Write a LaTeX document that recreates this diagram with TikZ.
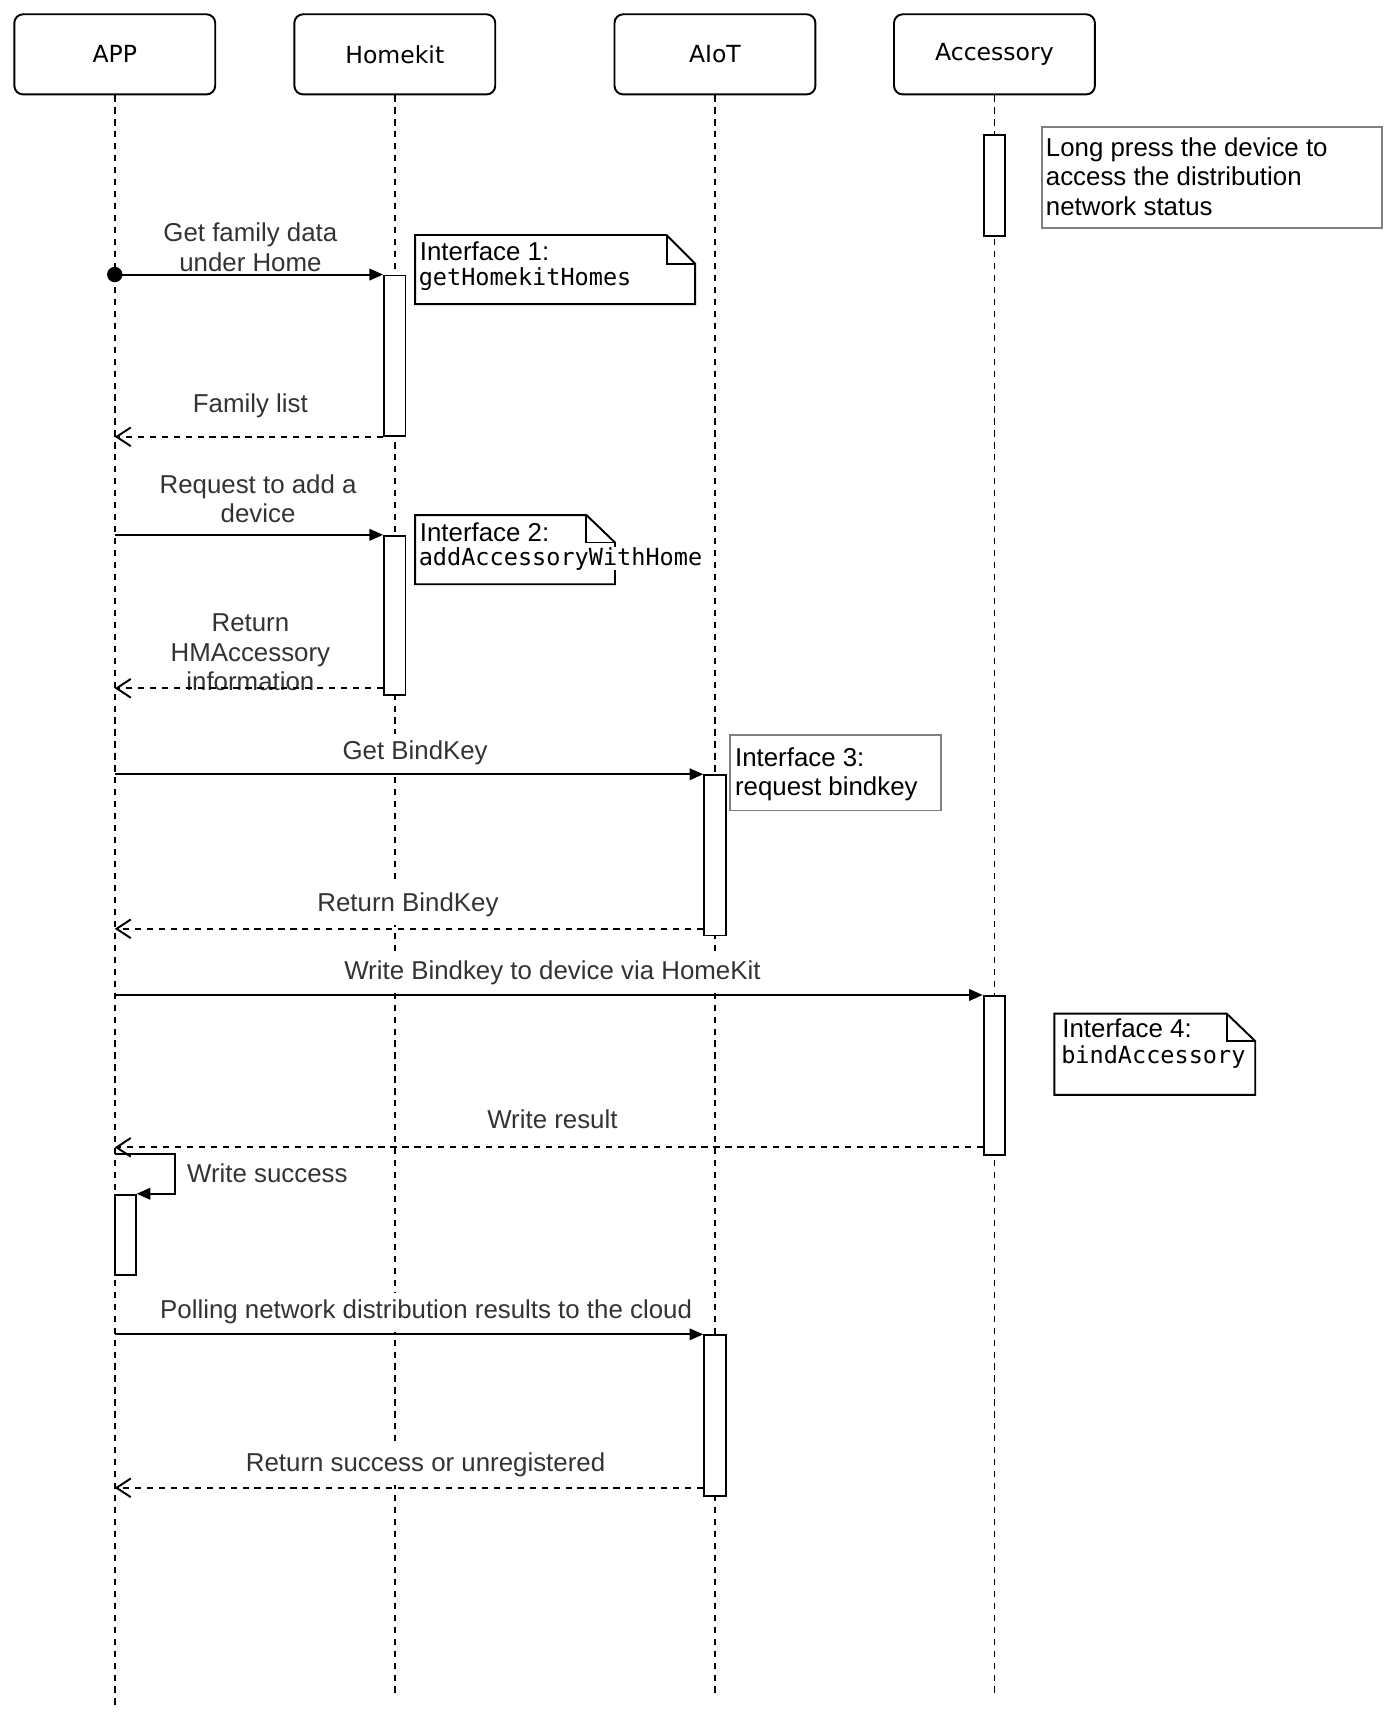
\documentclass[tikz,border=0pt]{standalone}
\usepackage{fontspec}
\setmainfont{Liberation Sans}
\setmonofont{DejaVu Sans Mono}
\newfontfamily\actorfont{DejaVu Sans}
\usetikzlibrary{arrows.meta}
\definecolor{notegray}{RGB}{128,128,128}
\definecolor{labelgray}{RGB}{51,51,51}

\begin{document}
\begin{tikzpicture}[x=0.02cm, y=-0.02cm,
  actor/.style={draw, rounded corners=0.16cm, line width=1pt, minimum width=3.66cm, minimum height=1.46cm, font=\actorfont\fontsize{12.2pt}{14pt}\selectfont},
  lifeline/.style={line width=0.9pt, dash pattern=on 3.2pt off 3pt},
  bar/.style={draw, fill=white, line width=1pt, minimum width=0.39cm, inner sep=0pt, anchor=north},
  msg/.style={line width=1pt, -{Triangle[length=0.25cm, width=0.21cm]}},
  ret/.style={line width=1pt, dash pattern=on 3.2pt off 3pt, -{Straight Barb[length=0.26cm, width=0.34cm]}},
  lbl/.style={fill=white, text=labelgray, inner xsep=1pt, inner ysep=4pt, anchor=base, align=center, font=\fontsize{13.4pt}{15.4pt}\selectfont},
  notetxt/.style={inner sep=0pt, anchor=base west, align=left, font=\fontsize{13.4pt}{15.1pt}\selectfont},
  code/.style={inner sep=0pt, anchor=base west, font=\ttfamily\fontsize{12.2pt}{14pt}\selectfont},
  note/.style={line width=1pt},
  plainnote/.style={draw=notegray, line width=1pt}]
\useasboundingbox (0,0) rectangle (1260,1568);

% actors
\node[actor] (app) at (104.5,49.5) {APP};
\node[actor] (hk) at (359.5,49.5) {Homekit};
\node[actor] (aiot) at (651,49.5) {AIoT};
\node[actor] (acc) at (905.5,49.5) {Accessory};

% lifelines
\coordinate (append) at (104.5,1556);
\coordinate (hkend) at (359.5,1544);
\coordinate (aiotend) at (651,1544);
\coordinate (accend) at (905.5,1544);
\draw[lifeline] (app.south) -- (append);
\draw[lifeline] (hk.south) -- (hkend);
\draw[lifeline] (aiot.south) -- (aiotend);
\draw[lifeline] (acc.south) -- (accend);

% activations
\node[bar, minimum height=1.84cm] (ac1) at (905.5,122) {};
\node[bar, minimum height=2.92cm] (hk1) at (359.5,250) {};
\node[bar, minimum height=2.9cm] (hk2) at (359.5,487) {};
\node[bar, minimum height=2.92cm] (ai1) at (651,705) {};
\node[bar, minimum height=2.9cm] (ac2) at (905.5,906) {};
\node[bar, minimum height=1.46cm, minimum width=0.38cm] (appbar) at (114,1087) {};
\node[bar, minimum height=2.92cm] (ai2) at (651,1215) {};

% return start points
\coordinate (r2s) at ([yshift=0.14cm]hk2.south west);
\coordinate (r3s) at ([yshift=0.14cm]ai1.south west);
\coordinate (r4s) at ([yshift=0.16cm]ac2.south west);
\coordinate (r5s) at ([yshift=0.16cm]ai2.south west);
\coordinate (selfs) at (104.5,1051);

% note on accessory
\draw[plainnote] (949,116) rectangle (1258,208);
\node[notetxt] (n0) at (952,195.8) {Long press the device to\\access the distribution\\network status};

% step 1
\node[lbl] (m1) at (228,247) {Get family data\\under Home};
\fill (app |- hk1.north west) circle (0.14cm);
\draw[msg] (app |- hk1.north west) -- (hk1.north west);
\draw[note] (378,214) -- (607,214) -- (633,240) -- (633,277) -- (378,277) -- cycle;
\draw[note] (607,214) -- (607,240) -- (633,240);
\node[notetxt] (n1) at (382,237) {Interface 1:};
\node[code] (c1) at (381,260) {getHomekitHomes};
\node[lbl] (r1) at (228,376) {Family list};
\draw[ret] (hk1.south west) -- (app |- hk1.south west);

% step 2
\node[lbl] (m2) at (235,476) {Request to add a\\device};
\draw[msg] (app |- hk2.north west) -- (hk2.north west);
\draw[note] (378,469) -- (534,469) -- (560,494) -- (560,532) -- (378,532) -- cycle;
\draw[note] (534,469) -- (534,494) -- (560,494);
\node[notetxt] (n2) at (382,493) {Interface 2:};
\node[code, fill=white] (c2) at (381,514.5) {addAccessoryWithHome};
\node[lbl] (r2) at (228,629) {Return\\HMAccessory\\information};
\draw[ret] (r2s) -- (app |- r2s);

% step 3
\node[lbl] (m3) at (378,692) {Get BindKey};
\draw[msg] (app |- ai1.north west) -- (ai1.north west);
\draw[plainnote] (665,669) rectangle (857,738);
\node[notetxt, font=\fontsize{13.4pt}{14.8pt}\selectfont] (n3) at (669,724) {Interface 3:\\request bindkey};
\node[lbl] (r3) at (371.5,830) {Return BindKey};
\draw[ret] (r3s) -- (app |- r3s);

% step 4
\node[lbl] (m4) at (503,892) {Write Bindkey to device via HomeKit};
\draw[msg] (app |- ac2.north west) -- (ac2.north west);
\draw[note] (960,923) -- (1117,923) -- (1143,948) -- (1143,997) -- (960,997) -- cycle;
\draw[note] (1117,923) -- (1117,948) -- (1143,948);
\node[notetxt] (n4) at (967,945) {Interface 4:};
\node[code] (c4) at (966,968) {bindAccessory};
\node[lbl] (r4) at (503,1028) {Write result};
\draw[ret] (r4s) -- (app |- r4s);

% self call
\draw[msg] (selfs) -- (159,1051) |- (appbar.north east);
\node[notetxt, text=labelgray] (s1) at (170,1077) {Write success};

% step 5
\node[lbl] (m5) at (388,1201) {Polling network distribution results to the cloud};
\draw[msg] (app |- ai2.north west) -- (ai2.north west);
\node[lbl] (r5) at (387.5,1340) {Return success or unregistered};
\draw[ret] (r5s) -- (app |- r5s);
\end{tikzpicture}
\end{document}
